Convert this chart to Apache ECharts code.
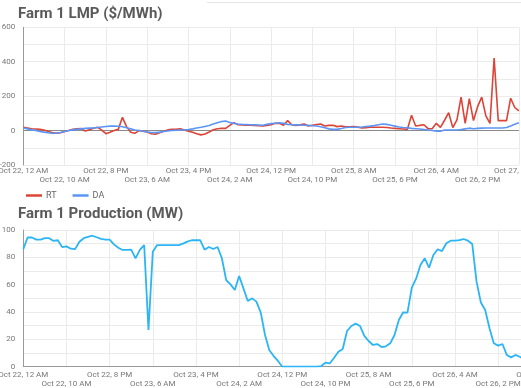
<!DOCTYPE html>
<html>
<head>
<meta charset="utf-8">
<script src="https://cdn.jsdelivr.net/npm/echarts@6/dist/echarts.min.js"></script>
<style>
html,body{margin:0;padding:0;background:#fff;}
#chart{width:521px;height:388px;}
</style>
</head>
<body>
<div id="chart"></div>
<script>
// Tick labels every 10 hours starting Oct 22, 12 AM
const xTickLabels = [
  'Oct 22, 12 AM','Oct 22, 10 AM','Oct 22, 8 PM','Oct 23, 6 AM','Oct 23, 4 PM',
  'Oct 24, 2 AM','Oct 24, 12 PM','Oct 24, 10 PM','Oct 25, 8 AM','Oct 25, 6 PM',
  'Oct 26, 4 AM','Oct 26, 2 PM','Oct 27, 12 AM'
];

// Hourly values (hour 0 = Oct 22, 12 AM)
const rtValues = [
  19,15,11,9,7,3,-5,-12,-16,-13,
  -5,0,7,11,12,-3,5,13,19,3,
  -18,-10,0,7,77,23,-10,-16,0,-4,
  -8,-18,-21,-12,-4,4,7,7,11,3,
  -4,-10,-18,-25,-20,-8,5,11,13,13,
  30,46,34,32,31,31,30,28,27,30,
  34,42,42,31,58,34,29,33,38,27,
  31,35,38,27,30,31,23,27,22,22,
  24,20,15,17,19,19,19,19,18,15,
  13,11,9,7,89,27,30,34,11,11,
  42,19,60,104,17,62,194,42,186,58,
  139,194,85,42,422,58,58,58,188,134,
  114
];
const daValues = [
  15,10,4,0,-5,-9,-13,-16,-14,-11,
  -5,0,4,7,10,13,14,15,18,21,
  24,26,27,25,22,16,10,3,0,-4,
  -8,-11,-12,-9,-5,-2,0,2,3,4,
  6,10,15,19,24,29,38,46,53,55,
  47,42,38,36,35,34,33,32,31,36,
  41,43,45,42,36,34,33,32,31,30,
  28,27,22,16,10,7,7,12,18,19,
  19,19,21,24,26,29,34,38,36,31,
  26,21,18,16,13,11,9,6,3,0,
  -3,-4,3,3,3,3,6,10,14,11,
  13,14,15,15,15,15,15,18,27,37,
  46
];
const productionValues = [
  86,94.5,94.5,93,93,94,94,92,92.5,87.5,
  88,86.3,86,91.4,94,95,95.8,94.7,93.5,92.9,
  93,89.5,87,85.4,85.5,85.6,79.3,85.4,89,26.8,
  84.1,89,89,89,89,89,89,90,91.5,92.5,
  92.5,92.5,85.6,87.6,86.1,87.6,79.3,63.4,60.2,56.1,
  66.4,57.3,48.1,50,47.6,39.8,23.2,12,7.8,4.2,
  0,0,0,0,0,0,0,0,0,0.5,
  2.9,2.4,6.6,11,13,26.1,29.8,31.5,29.8,22.5,
  18.8,15.9,16.6,14.4,14.9,17.1,23.2,34.2,39.8,39.5,
  57.8,64.4,74.4,79.3,72.4,81.7,85.9,84.6,90.3,92.2,
  92.2,92.6,93.4,92.2,89.8,62.2,47,41.5,28.1,17.1,
  15.4,16.6,8.6,6.8,8.6,7.3,5.6,4
];

const toPairs = arr => arr.map((v, i) => [i, v]);

const FONT = 'Roboto';
const labelColor = '#777';
const gridColor = '#ebebeb';
const axisColor = '#9a9a9a';

// parity 0 -> first row labels, parity 1 -> second row labels
function xLabelFor(parity) {
  return function (value) {
    if (value % 10 !== 0) return '';
    const idx = value / 10;
    if (idx % 2 !== parity) return '';
    return xTickLabels[idx] || '';
  };
}

function makeX(gridIndex, parity, margin, showLine) {
  return {
    type: 'value', gridIndex: gridIndex, position: 'bottom', min: 0, max: 120, interval: 10,
    axisLine: {show: showLine, onZero: false, lineStyle: {color: axisColor, width: 1}},
    axisTick: {show: false},
    splitLine: {show: parity === 0, lineStyle: {color: gridColor, width: 1}},
    axisLabel: {formatter: xLabelFor(parity), fontFamily: FONT, fontSize: 8, color: labelColor,
                margin: margin, showMinLabel: true, showMaxLabel: true, hideOverlap: false}
  };
}

const chart = echarts.init(document.getElementById('chart'), null, {renderer: 'canvas'});

const option = {
  backgroundColor: '#fff',
  animation: false,
  title: [
    {text: 'Farm 1 LMP ($/MWh)', left: 13, top: 2,
     textStyle: {fontFamily: FONT, fontWeight: 'bold', fontSize: 15, color: '#5a5a5a'}},
    {text: 'Farm 1 Production (MW)', left: 13, top: 202,
     textStyle: {fontFamily: FONT, fontWeight: 'bold', fontSize: 15, color: '#5a5a5a'}}
  ],
  graphic: [
    {type: 'line', shape: {x1: 207, y1: 2.5, x2: 521, y2: 2.5},
     style: {stroke: '#e6e6e6', lineWidth: 1}, silent: true}
  ],
  legend: {
    data: ['RT', 'DA'],
    left: 21, top: 186,
    icon: 'rect', itemWidth: 16, itemHeight: 2.5, itemGap: 16,
    textStyle: {fontFamily: FONT, fontSize: 9, color: '#666', padding: [0,0,0,-1]}
  },
  grid: [
    {left: 23.3, top: 27.3, width: 495.6, height: 137.7, containLabel: false, outerBoundsMode: 'none'},
    {left: 23.3, top: 230, width: 518, height: 136.7, containLabel: false, outerBoundsMode: 'none'}
  ],
  xAxis: [
    makeX(0, 0, 2, false),
    makeX(0, 1, 11, false),
    makeX(1, 0, 4, true),
    makeX(1, 1, 13, false)
  ],
  yAxis: [
    {type: 'value', gridIndex: 0, min: -200, max: 600, interval: 100,
     axisLine: {show: true, lineStyle: {color: axisColor, width: 1}},
     axisTick: {show: false},
     splitLine: {show: true, lineStyle: {color: gridColor, width: 1}},
     axisLabel: {formatter: v => (v % 200 === 0 ? String(v) : ''),
                 fontFamily: FONT, fontSize: 8, color: labelColor, margin: 8}},
    {type: 'value', gridIndex: 1, min: 0, max: 100, interval: 10,
     axisLine: {show: true, lineStyle: {color: axisColor, width: 1}},
     axisTick: {show: false},
     splitLine: {show: true, lineStyle: {color: gridColor, width: 1}},
     axisLabel: {formatter: v => (v % 20 === 0 ? String(v) : ''),
                 fontFamily: FONT, fontSize: 8, color: labelColor, margin: 8}}
  ],
  series: [
    {name: 'RT', type: 'line', xAxisIndex: 0, yAxisIndex: 0,
     data: toPairs(rtValues), showSymbol: false, symbol: 'none',
     lineStyle: {color: '#db4437', width: 1.6}, itemStyle: {color: '#db4437'},
     z: 3,
     markLine: {silent: true, symbol: 'none', label: {show: false},
                lineStyle: {color: '#8a8a8a', width: 1, type: 'solid'},
                data: [{yAxis: 0}], z: 1}},
    {name: 'DA', type: 'line', xAxisIndex: 0, yAxisIndex: 0,
     data: toPairs(daValues), showSymbol: false, symbol: 'none',
     lineStyle: {color: '#5b95f5', width: 1.6}, itemStyle: {color: '#5b95f5'}, z: 4},
    {name: 'Production', type: 'line', xAxisIndex: 2, yAxisIndex: 1,
     data: toPairs(productionValues), showSymbol: false, symbol: 'none',
     lineStyle: {color: '#2cb5f5', width: 1.8}, itemStyle: {color: '#2cb5f5'}}
  ]
};
chart.setOption(option);
</script>
</body>
</html>
